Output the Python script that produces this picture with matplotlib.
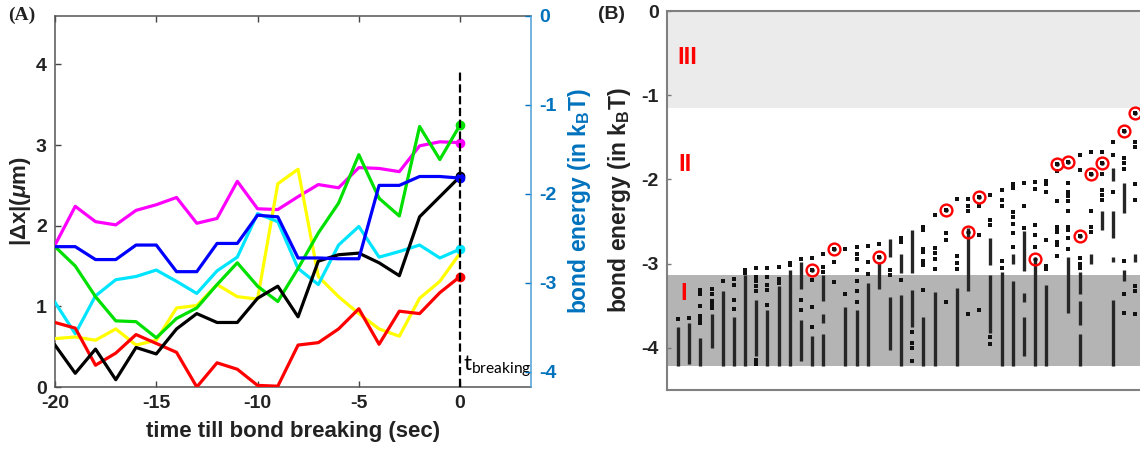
import matplotlib
matplotlib.use("Agg")
import matplotlib.pyplot as plt
import numpy as np

plt.rcParams['font.family'] = ['Liberation Sans', 'DejaVu Sans']
plt.rcParams['axes.unicode_minus'] = False
plt.rcParams['mathtext.fontset'] = 'custom'
plt.rcParams['mathtext.rm'] = 'Lato'
plt.rcParams['mathtext.bf'] = 'Liberation Sans:bold'
plt.rcParams['mathtext.it'] = 'Liberation Sans:italic:bold'

# ---------------- panel A data ----------------
t = np.arange(-20, 1)
magenta = [1.76, 2.24, 2.05, 2.01, 2.19, 2.26, 2.35, 2.03, 2.09, 2.55, 2.21,
           2.20, 2.36, 2.51, 2.47, 2.72, 2.71, 2.67, 2.99, 3.04, 3.03]
blue = [1.74, 1.74, 1.58, 1.58, 1.76, 1.76, 1.43, 1.43, 1.78, 1.78, 2.13,
        2.11, 1.60, 1.60, 1.59, 1.59, 2.50, 2.50, 2.61, 2.61, 2.59]
cyan = [1.05, 0.66, 1.13, 1.33, 1.37, 1.45, 1.31, 1.16, 1.44, 1.61, 2.15,
        2.05, 1.47, 1.27, 1.76, 1.99, 1.61, 1.68, 1.76, 1.60, 1.71]
green = [1.74, 1.50, 1.12, 0.82, 0.81, 0.61, 0.85, 0.98, 1.27, 1.54, 1.25,
         1.06, 1.47, 1.91, 2.28, 2.88, 2.34, 2.12, 3.23, 2.82, 3.25]
yellow = [0.60, 0.62, 0.58, 0.72, 0.52, 0.58, 0.98, 1.01, 1.27, 1.12, 1.09,
          2.52, 2.70, 1.37, 1.12, 0.91, 0.72, 0.63, 1.10, 1.31, 1.66]
black = [0.52, 0.17, 0.47, 0.09, 0.49, 0.41, 0.72, 0.91, 0.80, 0.80, 1.10,
         1.25, 0.87, 1.56, 1.64, 1.66, 1.54, 1.38, 2.11, 2.36, 2.61]
red = [0.80, 0.73, 0.27, 0.42, 0.65, 0.54, 0.43, 0.00, 0.30, 0.22, 0.02,
       0.01, 0.52, 0.55, 0.72, 0.97, 0.53, 0.94, 0.91, 1.17, 1.37]

series = [(magenta, '#ff00ff', True), (yellow, '#ffff00', False),
          (cyan, '#00e5ff', True), (green, '#00e000', True),
          (red, '#ff0000', True), (black, '#000000', True),
          (blue, '#0000ff', True)]

# ---------------- panel B data ----------------
# per column: isolated dots and dense runs (lo, hi), bond energy in kBT
b_dots = [
    [-3.66],
    [-3.65],
    [-3.31, -3.36, -3.50, -3.62, -3.66, -3.71],
    [-3.30, -3.36, -3.44, -3.49, -3.53],
    [-3.20],
    [-3.18, -3.25, -3.43, -3.54],
    [-3.07, -3.11],
    [-3.05, -3.16, -3.21, -3.27, -3.32, -4.14, -4.19],
    [-3.05, -3.16, -3.25, -3.31, -3.49],
    [-3.04, -3.18, -3.23],
    [-2.99, -3.02],
    [-2.95, -3.43, -3.55],
    [-2.93, -3.07, -3.19, -3.51, -3.75],
    [-2.89, -3.04, -3.10],
    [-2.82, -2.98, -3.22],
    [-2.83, -3.36],
    [-2.80, -2.88, -2.94, -3.07, -3.21, -3.33, -3.45],
    [-2.79, -2.98, -3.12],
    [-2.77, -2.92],
    [-3.08, -3.13],
    [-2.69, -2.74, -3.19],
    [-3.81, -3.94, -4.00, -4.15],
    [-2.56, -2.60, -2.83, -2.86, -2.97, -3.02, -3.31],
    [-2.42, -2.81, -2.87, -2.94, -3.06],
    [-2.36, -2.64, -2.72, -3.45],
    [-2.23, -2.91, -2.99, -3.06],
    [-2.23, -2.32, -2.38, -3.60],
    [-2.21, -2.31, -2.66, -3.55],
    [-2.18, -2.48, -2.54, -3.87, -3.95],
    [-2.13, -2.24, -2.32, -2.97, -3.05],
    [-2.06, -2.10, -2.39, -2.45, -2.53, -2.64, -2.80],
    [-2.04, -2.32, -2.58],
    [-2.03, -2.11, -2.54, -2.66, -2.80],
    [-2.02, -2.06, -2.15, -2.72, -3.03, -3.06],
    [-1.82, -1.90, -2.26, -2.56, -2.58, -2.62, -2.74, -2.78, -2.91],
    [-1.79, -2.04, -2.15, -2.20, -2.26, -2.38, -2.56, -2.60, -2.70, -2.83],
    [-1.71, -1.89, -2.67, -2.93, -3.00, -3.05],
    [-1.68, -1.94, -2.38, -2.56, -2.62],
    [-1.68, -1.81, -1.94, -2.12, -2.18, -2.24],
    [-1.56, -1.71, -2.15],
    [-1.43, -1.74, -1.80, -1.88, -2.97, -3.36, -3.59],
    [-1.21, -1.55, -1.62, -2.06, -2.24, -3.26, -3.32, -3.60],
]
b_runs = [
    [(-4.21, -3.75)],
    [(-4.19, -3.70)],
    [(-4.21, -3.88)],
    [(-4.00, -3.60)],
    [(-4.21, -3.32)],
    [(-4.21, -3.63)],
    [(-4.21, -3.14)],
    [(-4.10, -3.43)],
    [(-4.21, -3.55)],
    [(-4.21, -3.27)],
    [(-4.21, -3.08)],
    [(-3.30, -2.98), (-4.16, -3.67)],
    [(-4.21, -3.86)],
    [(-3.44, -3.14), (-3.70, -3.60), (-4.21, -3.83)],
    [],
    [(-4.21, -3.52)],
    [(-4.21, -3.55)],
    [(-4.21, -3.23)],
    [(-3.30, -2.98)],
    [(-2.92, -2.71), (-4.02, -3.40)],
    [(-3.11, -2.88), (-4.21, -3.37)],
    [(-3.11, -2.60), (-3.75, -3.31)],
    [(-4.21, -3.63)],
    [(-4.21, -3.34)],
    [],
    [(-4.21, -3.29)],
    [(-3.33, -2.58)],
    [],
    [(-3.01, -2.69), (-3.82, -3.13)],
    [(-4.21, -3.10)],
    [(-3.00, -2.88), (-4.21, -3.21)],
    [(-3.09, -2.61), (-3.45, -3.35), (-4.10, -3.63)],
    [(-4.21, -2.96)],
    [(-4.21, -3.25)],
    [],
    [(-3.58, -2.92)],
    [(-3.36, -3.10), (-3.73, -3.44), (-4.21, -3.83)],
    [(-3.00, -2.88)],
    [(-2.60, -2.38)],
    [(-2.02, -1.86), (-2.70, -2.38), (-2.98, -2.92), (-4.21, -3.43)],
    [(-2.40, -2.04), (-3.20, -3.07)],
    [(-2.98, -2.88)],
]
circle_col = [13, 15, 19, 25, 27, 28, 33, 35, 36, 37, 38, 39, 41, 42]
circle_val = [-3.07, -2.82, -2.92, -2.36, -2.62, -2.21, -2.94, -1.82, -1.79,
              -2.67, -1.94, -1.81, -1.43, -1.21]

# ---------------- figure ----------------
W, H = 1140, 454
fig = plt.figure(figsize=(W / 100, H / 100), dpi=100)

# panel A
axA = fig.add_axes([55 / W, 1 - 387 / H, (531 - 55) / W, (387 - 16) / H])
for vals, col, dot in series:
    axA.plot(t, vals, color=col, lw=2.3, zorder=3)
    if dot:
        axA.plot(0, vals[-1], 'o', color=col, ms=6, zorder=4)
axA.plot([0, 0], [0, 3.9], '--', color='black', lw=1.6, zorder=5)
axA.text(0.12, 0.2, r'$\mathrm{t}_{\mathrm{breaking}}$', fontsize=16, zorder=6)
axA.set_xlim(-20, 3.5)
axA.set_ylim(0, 4.6)
axA.set_xticks([-20, -15, -10, -5, 0])
axA.set_yticks([0, 1, 2, 3, 4])
axA.tick_params(direction='in', top=True, right=False, length=4, width=1,
                labelsize=14, pad=6, color='#444444')
for lab in axA.get_xticklabels() + axA.get_yticklabels():
    lab.set_fontweight('bold')
    lab.set_color('#222222')
axA.set_xlabel('time till bond breaking (sec)', fontsize=16, fontweight='bold',
               color='#222222', labelpad=6)
axA.set_ylabel(r'|Δx|($\mu$m)', fontsize=16, fontweight='bold',
               color='#222222', labelpad=2)
for s in ['left', 'bottom', 'top']:
    axA.spines[s].set_color('#555555')
    axA.spines[s].set_linewidth(1.1)
axA.spines['right'].set_visible(False)

axR = axA.twinx()
axR.set_ylim(-4.17, 0)
axR.set_yticks([-4, -3, -2, -1, 0])
axR.tick_params(direction='in', length=4, width=1, labelsize=14, pad=6,
                colors='#0072BD')
for lab in axR.get_yticklabels():
    lab.set_fontweight('bold')
for s in ['left', 'bottom', 'top']:
    axR.spines[s].set_visible(False)
axR.spines['right'].set_color('#4d9fd6')
axR.spines['right'].set_linewidth(1.1)
axR.set_ylabel(r'bond energy (in k$_\mathbf{B}$T)', fontsize=16.5,
               fontweight='bold', color='#0072BD', labelpad=7)

fig.text(8 / W, 1 - 7 / H, '(A)', family='Liberation Serif', fontweight='bold',
         fontsize=14, va='top', color='#222222')

# panel B
axB = fig.add_axes([667 / W, 1 - 390 / H, (W - 667) / W, (390 - 11) / H])
axB.axhspan(-1.15, 0, color='#ebebeb', zorder=0, lw=0)
axB.axhspan(-4.21, -3.14, color='#b4b4b4', zorder=0, lw=0)
for i in range(len(b_dots)):
    x = i + 1
    axB.scatter([x] * len(b_dots[i]), b_dots[i], s=7, marker='s',
                color='#111111', lw=0, zorder=2)
    for lo, hi in b_runs[i]:
        axB.vlines(x, lo, hi, color='#262626', lw=2.4, zorder=2)
axB.plot(circle_col, circle_val, 'o', ms=8.5, mfc='none', mec='#ff0000',
         mew=1.7, zorder=3)
axB.plot(circle_col, circle_val, 'o', ms=2.2, color='#111111', zorder=4)
axB.text(0.9, -0.55, 'III', color='#ff0000', fontsize=17, fontweight='bold',
         va='center')
axB.text(1.0, -1.82, 'II', color='#ff0000', fontsize=17, fontweight='bold',
         va='center')
axB.text(1.2, -3.35, 'I', color='#ff0000', fontsize=17, fontweight='bold',
         va='center')
axB.set_xlim(0, (W - 667) / 11.15)
axB.set_ylim(-4.5, 0)
axB.set_xticks([])
axB.set_yticks([-4, -3, -2, -1, 0])
axB.tick_params(direction='in', length=3, width=1, labelsize=14, pad=6,
                color='#777777')
for lab in axB.get_yticklabels():
    lab.set_fontweight('bold')
    lab.set_color('#222222')
for s in ['left', 'bottom', 'top']:
    axB.spines[s].set_color('#808080')
    axB.spines[s].set_linewidth(1.5)
axB.spines['right'].set_visible(False)
axB.set_ylabel(r'bond energy (in k$_\mathbf{B}$T)', fontsize=16.5,
               fontweight='bold', color='#222222', labelpad=6)

fig.text(598 / W, 1 - 6 / H, '(B)', fontweight='bold', fontsize=14, va='top',
         color='#222222')

fig.savefig('out.png', dpi=100)
